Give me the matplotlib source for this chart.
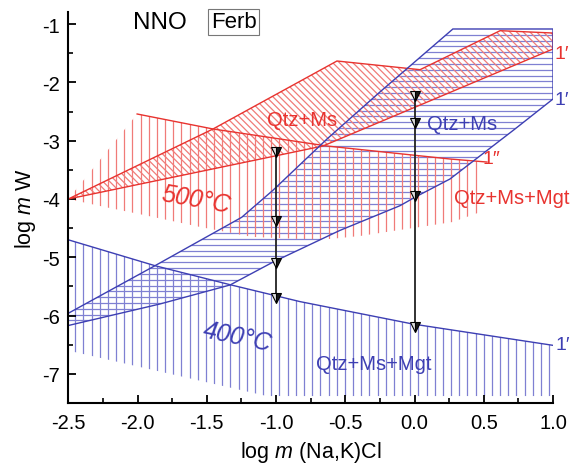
import numpy as np
import matplotlib
matplotlib.use("Agg")
import matplotlib.pyplot as plt
from matplotlib.patches import Polygon
from matplotlib.collections import LineCollection
from matplotlib.ticker import MultipleLocator

plt.rcParams['font.family'] = ['Liberation Sans', 'DejaVu Sans']
plt.rcParams['axes.unicode_minus'] = False
plt.rcParams['mathtext.fontset'] = 'custom'
plt.rcParams['mathtext.rm'] = 'Liberation Sans'
plt.rcParams['mathtext.it'] = 'Liberation Sans:italic'

# ---------------- data ----------------
# 500 C, Qtz+Ms field (diagonal hatch) : outline
red_ms_x = [-2.5, -1.455, -0.560, 0.040, 0.618, 1.0, 1.0, -0.661]
red_ms_y = [-4.0, -2.799, -1.633, -1.782, -1.113, -1.153, -1.427, -3.091]

# 500 C, boundary 1'' (top of Qtz+Ms+Mgt field)
red_b_x = [-2.003, -1.455, -0.632, 0.256, 0.523]
red_b_y = [-2.542, -2.799, -3.091, -3.314, -3.366]
# lower limit of the red vertical hatching (500 C Qtz+Ms+Mgt)
red_mgt_low_x = [-2.5, -2.271, -1.924, -1.548, -1.174, -0.827, -0.611, -0.394, -0.156, 0.089, 0.277, 0.48]
red_mgt_low_y = [-4.0, -4.12, -4.29, -4.48, -4.65, -4.686, -4.686, -4.635, -4.549, -4.463, -4.394, -4.22]
red_mgt_right_x = 0.48

# 400 C, Qtz+Ms field (horizontal hatch): upper and lower boundaries
blue_ms_up_x = [-2.5, -1.874, -1.248, -1.022, -0.632, -0.25, 0.277, 1.0]
blue_ms_up_y = [-5.96, -5.144, -4.314, -3.85, -2.971, -2.165, -1.084, -1.084]
blue_ms_lo_x = [-2.5, -1.837, -1.332, -1.02, -0.54, -0.105, 0.003, 0.256, 0.413, 0.725, 1.0]
blue_ms_lo_y = [-6.17, -5.80, -5.475, -5.08, -4.54, -4.115, -3.97, -3.657, -3.37, -2.80, -2.285]

# 400 C, boundary 1' (top of Qtz+Ms+Mgt field)
blue_b_x = [-2.5, -1.874, -1.332, -0.827, -0.011, 1.0]
blue_b_y = [-4.70, -5.144, -5.47, -5.76, -6.145, -6.51]
blue_mgt_low_x = [1.0, -1.066, -2.5]
blue_mgt_low_y = [-7.38, -7.38, -6.60]

# vertical arrows with markers
arrow1_x = -1.0
arrow1_y = [-3.2, -4.37, -5.09, -5.69]
arrow2_x = 0.0
arrow2_y = [-2.24, -2.69, -3.94, -6.20]

xtick_vals = [-2.5, -2.0, -1.5, -1.0, -0.5, 0.0, 0.5, 1.0]
xtick_labels = ['-2.5', '-2.0', '-1.5', '-1.0', '-0.5', '0.0', '0.5', '1.0']
ytick_vals = [-7, -6, -5, -4, -3, -2, -1]
ytick_labels = ['-7', '-6', '-5', '-4', '-3', '-2', '-1']

# ---------------- styles ----------------
RED = '#e8332f'
RED_H = '#f07b78'
BLUE = '#3d3fb3'
BLUE_H = '#7f80d2'
FONT = ['Liberation Sans', 'DejaVu Sans']

fig = plt.figure(figsize=(5.71, 4.64), dpi=100)
ax = fig.add_axes([68.3 / 571, 0.1292, (553 - 68.3) / 571, 0.8431])
ax.set_xlim(-2.5, 1.0)
ax.set_ylim(-7.5, -0.79)


def hatch(poly_xy, kind, color, spacing, lw=0.9, offset=0.0):
    poly = Polygon(poly_xy, closed=True, facecolor='none', edgecolor='none',
                   transform=ax.transData)
    ax.add_patch(poly)
    segs = []
    if kind == 'v':
        for x in np.arange(-2.5 + offset, 1.0001, spacing):
            segs.append([(x, -9), (x, 0)])
    elif kind == 'h':
        for y in np.arange(-1.084 + offset, -8, -spacing):
            segs.append([(-3, y), (2, y)])
    elif kind == 'd':
        k = 138.5 / 58.3  # 45 degrees on screen, descending to the right
        for c in np.arange(-11, 2, spacing):
            segs.append([(-3, c + k * 3), (2, c - k * 2)])
    lc = LineCollection(segs, colors=color, linewidths=lw, zorder=1)
    ax.add_collection(lc, autolim=False)
    lc.set_clip_path(poly)


# blue vertical (400 C Qtz+Ms+Mgt)
blue_mgt_poly = list(zip(blue_b_x, blue_b_y)) + list(zip(blue_mgt_low_x, blue_mgt_low_y))
hatch(blue_mgt_poly, 'v', BLUE_H, 0.059, offset=0.05)

# blue horizontal (400 C Qtz+Ms)
blue_ms_poly = list(zip(blue_ms_up_x, blue_ms_up_y)) + list(zip(blue_ms_lo_x[::-1], blue_ms_lo_y[::-1]))
hatch(blue_ms_poly, 'h', BLUE_H, 0.1, offset=-0.1)

# red vertical (500 C Qtz+Ms+Mgt)
top_x = [x for x in red_b_x if x <= red_mgt_right_x] + [red_mgt_right_x]
top_y = list(np.interp(top_x, red_b_x, red_b_y))
red_mgt_poly = list(zip(top_x, top_y)) + list(zip(red_mgt_low_x[::-1], red_mgt_low_y[::-1]))
hatch(red_mgt_poly, 'v', RED_H, 0.059, offset=0.05)

# red diagonal (500 C Qtz+Ms)
red_ms_poly = list(zip(red_ms_x, red_ms_y))
hatch(red_ms_poly, 'd', RED_H, 0.115)

# boundaries
ax.add_patch(Polygon(red_ms_poly, closed=True, fill=False, edgecolor=RED, lw=1.0, zorder=2))
ax.plot(red_b_x, red_b_y, color=RED, lw=1.0, zorder=2)
ax.add_patch(Polygon(blue_ms_poly, closed=True, fill=False, edgecolor=BLUE, lw=1.0, zorder=2))
ax.plot(blue_b_x, blue_b_y, color=BLUE, lw=1.0, zorder=2)

# arrows
for ax_x, ys in ((arrow1_x, arrow1_y), (arrow2_x, arrow2_y)):
    ax.plot([ax_x] * len(ys), ys, color='#222222', lw=1.3, zorder=3)
    ax.plot([ax_x] * len(ys), ys, linestyle='none', marker='v', markersize=6.5,
            markerfacecolor='#1a1a1a', markerfacecoloralt='#dddddd', fillstyle='right',
            markeredgecolor='black', markeredgewidth=0.8, zorder=4)

# texts
ax.text(-1.838, -0.96, 'NNO', fontsize=17.5, ha='center', va='center', color='black', family=FONT)
ax.text(-1.305, -0.96, 'Ferb', fontsize=16, ha='center', va='center', color='black', family=FONT,
        bbox=dict(boxstyle='square,pad=0.12', facecolor='white', edgecolor='#777777', lw=0.8))
lab = dict(fontsize=14.5, ha='center', va='center', family=FONT)
ax.text(-0.811, -2.63, 'Qtz+Ms', color=RED, **lab)
ax.text(0.344, -2.70, 'Qtz+Ms', color=BLUE, **lab)
ax.text(0.70, -3.97, 'Qtz+Ms+Mgt', color=RED, **lab)
ax.text(-0.291, -6.83, 'Qtz+Ms+Mgt', color=BLUE, **lab)
ax.text(-1.577, -4.0, '500°C', fontsize=18, color=RED, ha='center', va='center',
        rotation=-10, style='italic', family=FONT)
ax.text(-1.282, -6.35, '400°C', fontsize=18, color=BLUE, ha='center', va='center',
        rotation=-12, style='italic', family=FONT)
pl = dict(fontsize=14, ha='left', va='center', family=FONT)
ax.text(1.012, -1.51, '1′', color=RED, **pl)
ax.text(1.012, -2.285, '1′', color=BLUE, **pl)
ax.text(0.49, -3.31, '1″', color=RED, **pl)
ax.text(1.018, -6.49, '1′', color=BLUE, **pl)

# axes styling
for s in ('top', 'right'):
    ax.spines[s].set_visible(False)
for s in ('left', 'bottom'):
    ax.spines[s].set_linewidth(1.5)
ax.xaxis.set_minor_locator(MultipleLocator(0.25))
ax.yaxis.set_minor_locator(MultipleLocator(0.5))
ax.set_xticks(xtick_vals)
ax.set_xticklabels(xtick_labels)
ax.set_yticks(ytick_vals)
ax.set_yticklabels(ytick_labels)
ax.tick_params(which='major', direction='in', length=6, width=1.3, labelsize=14.5, pad=6)
ax.tick_params(which='minor', direction='in', length=3.5, width=1.2)
ax.tick_params(axis='x', which='major', pad=7)
ax.set_xlabel('log $m$ (Na,K)Cl', fontsize=15.5, labelpad=5)
ax.set_ylabel('log $m$ W', fontsize=15.5, labelpad=3)

fig.savefig('out.png', dpi=100)
